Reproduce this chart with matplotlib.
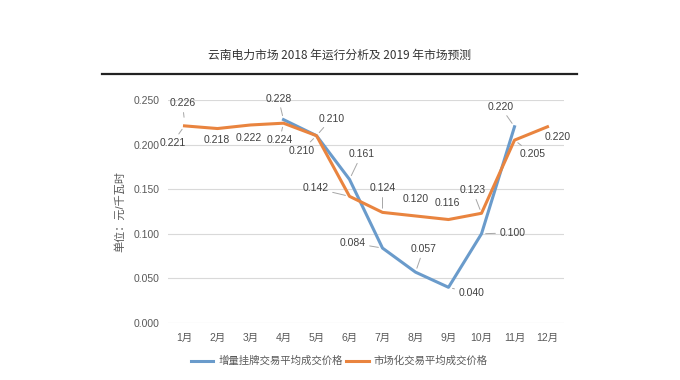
import numpy as np
import matplotlib
matplotlib.use("Agg")
import matplotlib.pyplot as plt
from matplotlib.lines import Line2D

plt.rcParams['font.family'] = ['Liberation Sans', 'Noto Sans CJK SC', 'DejaVu Sans']

# ---- data ----
title = "云南电力市场 2018 年运行分析及 2019 年市场预测"
ylabel = "单位：元/千瓦时"
months = ["1月", "2月", "3月", "4月", "5月", "6月", "7月", "8月", "9月", "10月", "11月", "12月"]
series_a_name = "增量挂牌交易平均成交价格"
series_b_name = "市场化交易平均成交价格"
series_a = [0.226, np.nan, np.nan, 0.228, 0.210, 0.161, 0.084, 0.057, 0.040, 0.100, 0.220, np.nan]
series_b = [0.221, 0.218, 0.222, 0.224, 0.210, 0.142, 0.124, 0.120, 0.116, 0.123, 0.205, 0.220]
yticks = [0.000, 0.050, 0.100, 0.150, 0.200, 0.250]

# ---- label placement (pixel offsets, leader line flag) ----
off_a = [(-2, 18, True), None, None, (-5, 21, True), (15, 17, True), (12, 25, True),
         (-30, 5, True), (8, 23, True), (23, -6, True), (31, 1, True), (-14, 20, True), None]
off_b = [(-12, -17, True), (-1, -11, False), (-2, -13, False), (-4, -17, True), (-15, -15, True),
         (-34, 8, True), (0, 24, True), (0, 17, False), (-1, 17, False), (-9, 23, True),
         (18, -14, True), (10, -10, False)]

BLUE = "#6A9BCB"
ORANGE = "#E9843F"
GRID = "#D9D9D9"
TXT = "#595959"
LBL = "#404040"
FS = 7.5

fig = plt.figure(figsize=(6.8, 3.8), dpi=100)
fig.patch.set_facecolor("white")
ax = fig.add_axes([168/680, 1-323/380, 396/680, 223/380])

x = np.arange(len(months))
ax.plot(x, series_a, color=BLUE, lw=2.2, zorder=3, solid_joinstyle='round', clip_on=False,
        label=series_a_name)
ax.plot(x, series_b, color=ORANGE, lw=2.2, zorder=4, solid_joinstyle='round', clip_on=False,
        label=series_b_name)

def put_labels(vals, offs):
    for i, (v, o) in enumerate(zip(vals, offs)):
        if o is None or v is None or np.isnan(v):
            continue
        dx, dy, lead = o
        kw = {}
        if lead:
            kw['arrowprops'] = dict(arrowstyle='-', color="#A6A6A6", lw=0.7,
                                    shrinkA=1, shrinkB=3)
        ax.annotate(f"{v:.3f}", xy=(i, v), xytext=(dx, dy), textcoords='offset pixels',
                    ha='center', va='center', fontsize=FS, color=LBL, zorder=6,
                    annotation_clip=False, **kw)

put_labels(series_a, off_a)
put_labels(series_b, off_b)

ax.set_xlim(-0.5, len(months) - 0.5)
ax.set_ylim(0, 0.25)
ax.set_yticks(yticks)
ax.set_yticklabels([f"{t:.3f}" for t in yticks])
ax.set_xticks(x)
ax.set_xticklabels(months)
ax.tick_params(axis='both', length=0, labelsize=FS, colors=TXT)
ax.tick_params(axis='y', pad=6)
ax.tick_params(axis='x', pad=7)
for s in ax.spines.values():
    s.set_visible(False)
ax.grid(axis='y', color=GRID, lw=0.8)
ax.set_axisbelow(True)
ax.set_ylabel(ylabel, fontsize=FS + 0.5, color=TXT)
ax.yaxis.set_label_coords(-0.108, 0.5)

fig.text(340/680, 1-55/380, title, ha='center', va='center', fontsize=8.5, color="#333333",
         family=['Noto Sans CJK SC', 'DejaVu Sans'])
fig.add_artist(Line2D([102/680, 577/680], [1-74/380, 1-74/380], color="#222222", lw=1.6,
                      transform=fig.transFigure))

fig.legend(loc='center', bbox_to_anchor=(339/680, 1-361/380), ncol=2, frameon=False,
           fontsize=FS, handlelength=2.2, handletextpad=0.45, columnspacing=0.3,
           labelcolor=TXT)

fig.savefig("out.png", dpi=100, facecolor="white")
